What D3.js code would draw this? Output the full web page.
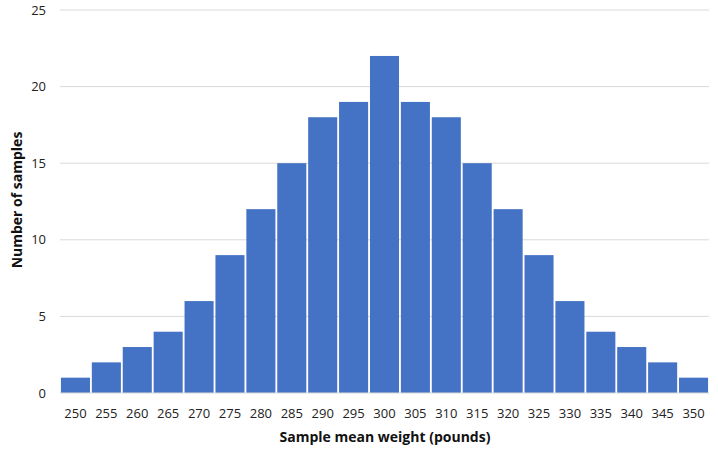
<!DOCTYPE html>
<html><head><meta charset="utf-8">
<script src="https://cdn.jsdelivr.net/npm/d3@7"></script>
<style>body{margin:0;background:#fff;} text{font-family:"Open Sans","Liberation Sans",sans-serif;}</style>
</head><body>
<svg id="c" width="718" height="455"></svg>
<script>
const categories = [250,255,260,265,270,275,280,285,290,295,300,305,310,315,320,325,330,335,340,345,350];
const counts = [1,2,3,4,6,9,12,15,18,19,22,19,18,15,12,9,6,4,3,2,1];
const yTicks = [0,5,10,15,20,25];

const svg = d3.select("#c");
const m = {l:60, r:709, t:10, b:393};
const x = d3.scaleBand().domain(categories).range([m.l, m.r]).paddingInner(0.06).paddingOuter(0.03);
const y = d3.scaleLinear().domain([0,25]).range([m.b, m.t]);

svg.append("g").selectAll("line").data(yTicks.filter(d=>d>0)).join("line")
  .attr("x1", m.l).attr("x2", m.r).attr("y1", d=>y(d)).attr("y2", d=>y(d))
  .attr("stroke","#d9d9d9").attr("stroke-width",1);

svg.append("g").selectAll("rect").data(counts).join("rect")
  .attr("x",(d,i)=>x(categories[i])).attr("width",x.bandwidth())
  .attr("y",d=>y(d)).attr("height",d=>y(0)-y(d)).attr("fill","#4472C4");

svg.append("line").attr("x1",m.l).attr("x2",m.r).attr("y1",y(0)).attr("y2",y(0)).attr("stroke","#d9d9d9");

svg.append("g").selectAll("text").data(yTicks).join("text")
  .attr("x",46).attr("y",d=>y(d)).attr("dy","0.35em").attr("text-anchor","end")
  .attr("font-size",13).attr("fill","#222").text(d=>d);

svg.append("g").selectAll("text").data(categories).join("text")
  .attr("x",d=>x(d)+x.bandwidth()/2).attr("y",413).attr("dy","0.35em").attr("text-anchor","middle")
  .attr("font-size",13).attr("fill","#222").text(d=>d);

svg.append("text").attr("x",385).attr("y",437).attr("dy","0.35em").attr("text-anchor","middle")
  .attr("font-size",14).attr("font-weight","bold").attr("fill","#111").text("Sample mean weight (pounds)");

svg.append("text").attr("transform","translate(17,200) rotate(-90)").attr("dy","0.35em").attr("text-anchor","middle")
  .attr("font-size",14).attr("font-weight","bold").attr("fill","#111").text("Number of samples");
</script>
</body></html>
